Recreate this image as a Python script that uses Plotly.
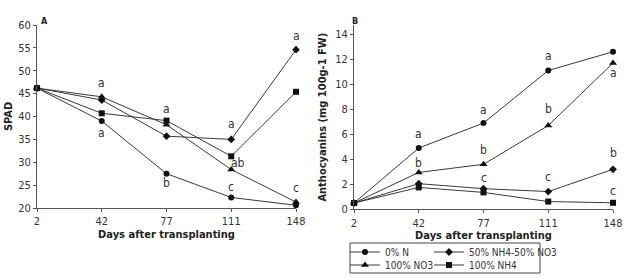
import plotly.graph_objects as go

days = ["2", "42", "77", "111", "148"]
series_names = ["0% N", "50% NH4-50% NO3", "100% NO3", "100% NH4"]
symbols = ["circle", "diamond", "triangle-up", "square"]
sizes = [6, 6, 7, 6]

# Panel A: SPAD
spad_0N = [46.2, 39.0, 27.5, 22.3, 20.6]
spad_50 = [46.2, 43.6, 35.7, 35.0, 54.6]
spad_NO3 = [46.2, 44.3, 38.2, 28.4, 21.3]
spad_NH4 = [46.2, 40.7, 39.1, 31.3, 45.4]

# Panel B: anthocyanins
ant_0N = [0.5, 4.9, 6.9, 11.1, 12.6]
ant_50 = [0.5, 2.05, 1.65, 1.42, 3.2]
ant_NO3 = [0.5, 2.95, 3.6, 6.7, 11.7]
ant_NH4 = [0.5, 1.75, 1.35, 0.62, 0.52]

# significance letters: (day, y position, text)
letters_A = [("42", 47.3, "a"), ("42", 36.4, "a"), ("77", 41.6, "a"), ("77", 25.5, "b"),
             ("111", 38.4, "a"), ("111", 29.8, "ab"), ("111", 24.6, "c"),
             ("148", 57.6, "a"), ("148", 24.4, "c")]
letters_B = [("42", 6.0, "a"), ("42", 3.7, "b"), ("77", 7.95, "a"), ("77", 4.75, "b"),
             ("77", 2.5, "c"), ("111", 12.25, "a"), ("111", 8.0, "b"), ("111", 2.6, "c"),
             ("148", 10.9, "a"), ("148", 4.5, "b"), ("148", 1.45, "c")]

FONT = "DejaVu Sans Condensed, Liberation Sans Narrow, Arial Narrow, Liberation Sans, sans-serif"
LINE = "#3a3a3a"

# legend placement (pixels)
legend_pos = [(345, 252), (429, 252), (345, 265), (429, 265)]

fig = go.Figure()
legend_ids = ["legend", "legend2", "legend3", "legend4"]
for i, (name, ya, yb) in enumerate(zip(series_names, [spad_0N, spad_50, spad_NO3, spad_NH4],
                                       [ant_0N, ant_50, ant_NO3, ant_NH4])):
    mk = dict(symbol=symbols[i], size=sizes[i], color="#111111")
    fig.add_trace(go.Scatter(x=days, y=ya, mode="lines+markers", name=name, showlegend=False,
                             line=dict(color=LINE, width=1), marker=mk, cliponaxis=False,
                             xaxis="x", yaxis="y"))
    fig.add_trace(go.Scatter(x=days, y=yb, mode="lines+markers", name=name, showlegend=True,
                             legend=legend_ids[i],
                             line=dict(color=LINE, width=1), marker=mk, cliponaxis=False,
                             xaxis="x2", yaxis="y2"))

ann = []
for d, y, t in letters_A:
    ann.append(dict(x=days.index(d), y=y, text=t, xref="x", yref="y", showarrow=False,
                    xshift=7 if t == "ab" else 0, font=dict(size=12, color="#333")))
for d, y, t in letters_B:
    ann.append(dict(x=days.index(d), y=y, text=t, xref="x2", yref="y2", showarrow=False,
                    font=dict(size=12, color="#333")))
ann.append(dict(x=39/624, y=1-14/278, xref="paper", yref="paper", text="<b>A</b>",
                showarrow=False, font=dict(size=9, color="#222")))
ann.append(dict(x=355/624, y=1-14/278, xref="paper", yref="paper", text="<b>B</b>",
                showarrow=False, font=dict(size=9, color="#222")))

axis_common = dict(showgrid=False, zeroline=False, showline=True, linecolor="#555", linewidth=1,
                   ticks="outside", ticklen=3, tickcolor="#555", automargin=False,
                   tickfont=dict(size=11, color="#333", family=FONT))

legends = {}
for lid, (px, py) in zip(legend_ids, legend_pos):
    legends[lid] = dict(orientation="h", x=px/624, y=1-py/278, xanchor="left", yanchor="middle",
                        font=dict(size=10, color="#333", family=FONT),
                        bgcolor="rgba(0,0,0,0)", itemwidth=30, borderwidth=0)

fig.update_layout(
    width=624, height=278, margin=dict(l=0, r=0, t=0, b=0, autoexpand=False),
    paper_bgcolor="white", plot_bgcolor="white",
    font=dict(family=FONT, color="#222"),
    xaxis=dict(axis_common, type="category", range=[0, 4], domain=[37/624, 296/624], anchor="y",
               title=dict(text="<b>Days after transplanting</b>", font=dict(size=11), standoff=2)),
    yaxis=dict(axis_common, range=[20, 60], dtick=5, domain=[1-208/278, 1-25/278], anchor="x",
               title=dict(text="<b>SPAD</b>", font=dict(size=11), standoff=3)),
    xaxis2=dict(axis_common, type="category", range=[0, 4], domain=[354/624, 613/624], anchor="y2",
                title=dict(text="<b>Days after transplanting</b>", font=dict(size=11), standoff=2)),
    yaxis2=dict(axis_common, range=[0, 14.74], tickvals=[0, 2, 4, 6, 8, 10, 12, 14],
                domain=[1-209.3/278, 1-25/278], anchor="x2",
                title=dict(text="<b>Anthocyanins (mg 100g-1 FW)</b>", font=dict(size=11), standoff=6)),
    shapes=[dict(type="rect", xref="paper", yref="paper", x0=350/624, x1=540/624,
                 y0=1-273/278, y1=1-243/278, line=dict(color="#444", width=1))],
    annotations=ann,
    **legends,
)

fig.write_html("out.html", config={"displayModeBar": False},
               post_script="document.body.style.margin='0';document.body.style.overflow='hidden';")
